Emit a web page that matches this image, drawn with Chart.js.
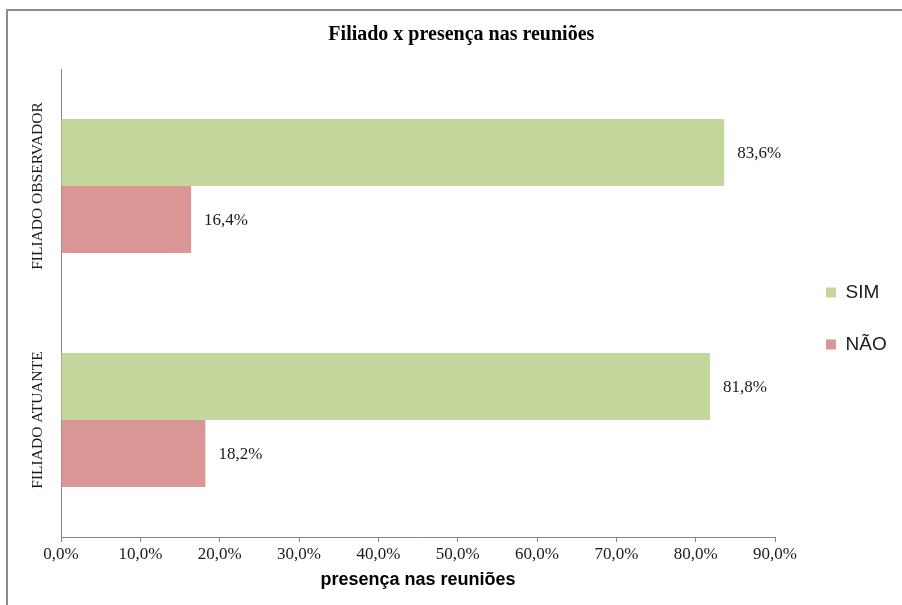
<!DOCTYPE html>
<html>
<head>
<meta charset="utf-8">
<script src="https://cdn.jsdelivr.net/npm/chart.js@4.4.0/dist/chart.umd.min.js"></script>
<style>
  html, body { margin: 0; padding: 0; background: #fff; }
  #wrap { position: relative; width: 902px; height: 605px; overflow: hidden; }
  #frame { position: absolute; left: 6px; top: 9px; width: 1000px; height: 1000px;
           border-top: 2px solid #8c8c8c; border-left: 2px solid #8c8c8c; }
  #chart { position: absolute; left: 0; top: 0; }
</style>
</head>
<body>
<div id="wrap">
  <div id="frame"></div>
  <canvas id="chart" width="902" height="605"></canvas>
</div>
<script>
// dados
const categorias = ['FILIADO OBSERVADOR', 'FILIADO ATUANTE'];
const nomesSeries = ['SIM', 'NÃO'];
const valoresSim = [83.6, 81.8];
const valoresNao = [16.4, 18.2];
const ticksX = [0, 10, 20, 30, 40, 50, 60, 70, 80, 90];

const corSim = '#c3d69b';
const corNao = '#d99694';
const corEixo = '#868686';

const fmt = v => v.toFixed(1).replace('.', ',') + '%';

// largura da legenda, para o plot terminar em x = 775
const legFont = 19, legPad = 33, legBox = 10;
const mctx = document.createElement('canvas').getContext('2d');
mctx.font = legFont + 'px "Liberation Sans"';
const legTextW = Math.max(...nomesSeries.map(t => mctx.measureText(t).width));
const legW = legPad + legBox + legFont / 2 + legTextW + 10;
const padRight = Math.max(0, 902 - 775 - legW);

// rótulos de valor na ponta das barras
const rotulosValor = {
  id: 'rotulosValor',
  afterDatasetsDraw(chart) {
    const ctx = chart.ctx;
    ctx.save();
    ctx.font = '17px "Liberation Serif"';
    ctx.fillStyle = '#1a1a1a';
    ctx.textAlign = 'left';
    ctx.textBaseline = 'middle';
    chart.data.datasets.forEach((ds, di) => {
      chart.getDatasetMeta(di).data.forEach((bar, i) => {
        ctx.fillText(fmt(ds.data[i]), bar.x + 13, bar.y + 1);
      });
    });
    ctx.restore();
  }
};

// categorias escritas na vertical
const rotulosCategoria = {
  id: 'rotulosCategoria',
  afterDraw(chart) {
    const ctx = chart.ctx;
    const y = chart.scales.y;
    ctx.save();
    ctx.font = '15.5px "Liberation Serif"';
    ctx.fillStyle = '#1a1a1a';
    ctx.textAlign = 'center';
    ctx.textBaseline = 'middle';
    categorias.forEach((c, i) => {
      ctx.save();
      ctx.translate(38, y.getPixelForValue(i));
      ctx.rotate(-Math.PI / 2);
      ctx.fillText(c, 0, 0);
      ctx.restore();
    });
    ctx.restore();
  }
};

// ajuste fino da posição da legenda e do título
const ajusteCaixas = {
  id: 'ajusteCaixas',
  afterLayout(chart) {
    const leg = chart.legend;
    if (leg) {
      const h = leg.bottom - leg.top;
      leg.left = 826 - legPad;
      leg.right = leg.left + legW;
      leg.top = 283 - legPad;
      leg.bottom = leg.top + h;
    }
    const t = chart.titleBlock;
    if (t) {
      t.left += 22;
      t.right += 22;
    }
  }
};

new Chart(document.getElementById('chart'), {
  type: 'bar',
  data: {
    labels: categorias,
    datasets: [
      { label: nomesSeries[0], data: valoresSim, backgroundColor: corSim, borderWidth: 0 },
      { label: nomesSeries[1], data: valoresNao, backgroundColor: corNao, borderWidth: 0 }
    ]
  },
  options: {
    indexAxis: 'y',
    responsive: false,
    animation: false,
    events: [],
    categoryPercentage: 0.573,
    barPercentage: 1.0,
    layout: { padding: { left: 0, right: padRight, top: 0, bottom: 0 } },
    plugins: {
      title: {
        display: true,
        text: 'Filiado x presença nas reuniões',
        color: '#000',
        font: { family: '"Liberation Serif"', size: 20, weight: 'bold' },
        padding: { top: 23, bottom: 22 }
      },
      legend: {
        position: 'right',
        align: 'start',
        labels: {
          boxWidth: legBox,
          boxHeight: legBox,
          padding: legPad,
          color: '#1a1a1a',
          font: { family: '"Liberation Sans"', size: legFont }
        }
      },
      tooltip: { enabled: false }
    },
    scales: {
      x: {
        min: 0,
        max: 90,
        afterBuildTicks: s => { s.ticks = ticksX.map(v => ({ value: v })); },
        afterFit: s => { s.height = 68; },
        grid: { display: true, drawOnChartArea: false, tickLength: 5, color: corEixo },
        border: { display: true, color: corEixo },
        ticks: {
          padding: 2,
          color: '#1a1a1a',
          font: { family: '"Liberation Serif"', size: 17 },
          callback: v => fmt(v)
        },
        title: {
          display: true,
          text: 'presença nas reuniões',
          color: '#000',
          font: { family: '"Liberation Sans"', size: 18, weight: 'bold' },
          padding: { top: 0, bottom: 14 }
        }
      },
      y: {
        afterFit: s => { s.width = 61; },
        grid: { display: false },
        border: { display: true, color: corEixo },
        ticks: { display: false }
      }
    }
  },
  plugins: [rotulosValor, rotulosCategoria, ajusteCaixas]
});
</script>
</body>
</html>
